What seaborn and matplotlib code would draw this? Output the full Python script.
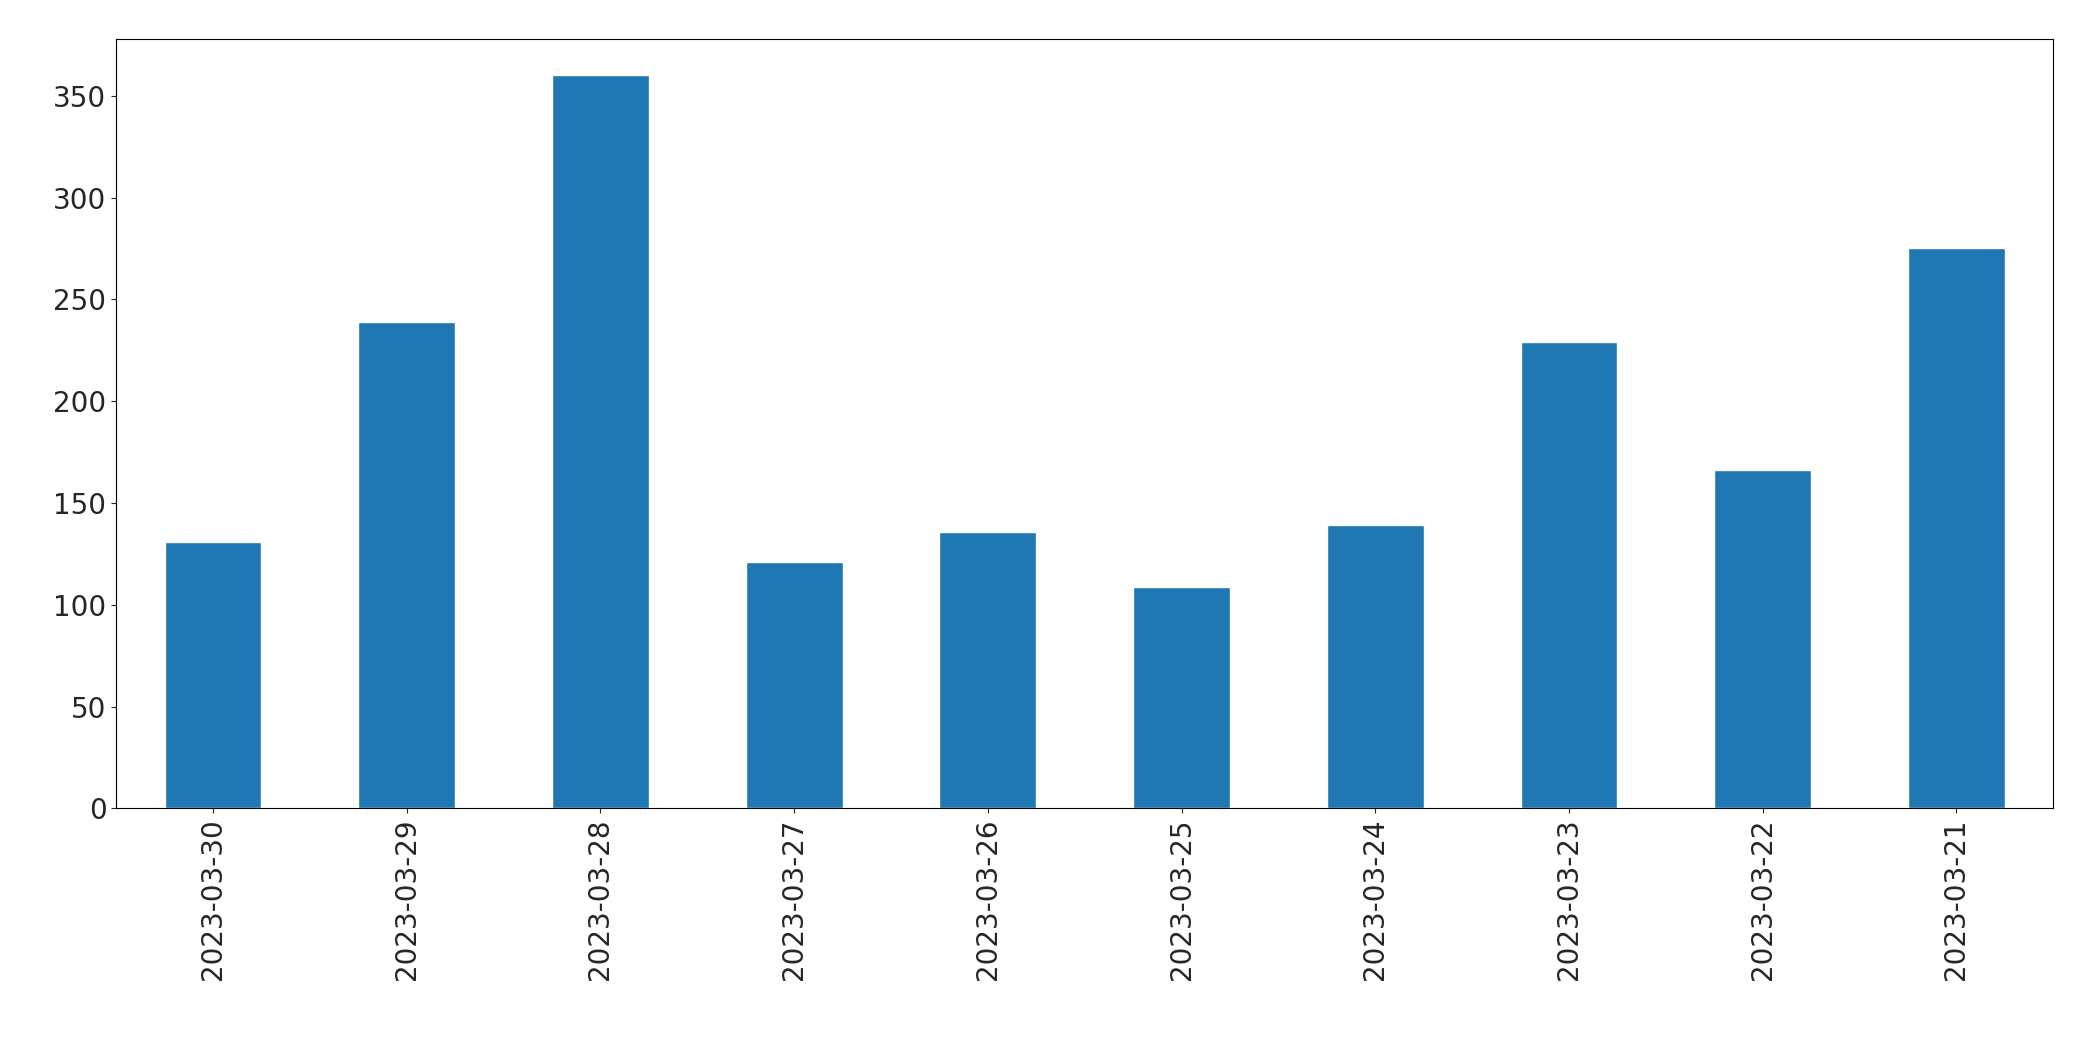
import matplotlib
matplotlib.use("Agg")
import matplotlib.pyplot as plt
import seaborn as sns
import pandas as pd

dates = ["2023-03-30", "2023-03-29", "2023-03-28", "2023-03-27", "2023-03-26",
         "2023-03-25", "2023-03-24", "2023-03-23", "2023-03-22", "2023-03-21"]
counts = [131, 239, 360, 121, 136, 109, 139, 229, 166, 275]

df = pd.DataFrame({"date": dates, "count": counts})

sns.set_style("ticks")
plt.rcParams['font.family'] = ['DejaVu Sans']
fig = plt.figure(figsize=(20.93, 10.61), dpi=100)
ax = fig.add_axes([0.0555, 0.238, 0.9255, 0.7255])
sns.barplot(data=df, x="date", y="count", order=dates, color="#1f77b4",
            saturation=1, width=0.5, ax=ax)
ax.set_xlim(-0.5, len(dates) - 0.5)
ax.set_ylim(0, 378)
ax.set_xlabel("")
ax.set_ylabel("")
ax.tick_params(axis="x", labelrotation=90, labelsize=20)
ax.tick_params(axis="y", labelsize=20)
for s in ax.spines.values():
    s.set_visible(True)
    s.set_color("black")
    s.set_linewidth(0.8)
fig.savefig("out.png", dpi=100)
